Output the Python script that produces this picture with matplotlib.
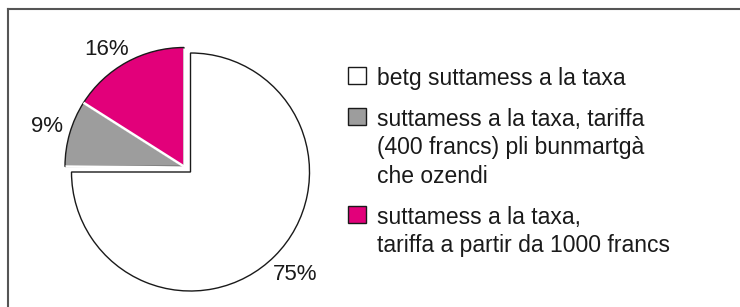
import matplotlib
matplotlib.use("Agg")
import matplotlib.pyplot as plt
import numpy as np

# ---- data ----
categories = [
    "betg suttamess a la taxa",
    "suttamess a la taxa, tariffa\n(400 francs) pli bunmartgà\nche ozendi",
    "suttamess a la taxa,\ntariffa a partir da 1000 francs",
]
shares = [75, 9, 16]
colors = ["#ffffff", "#9d9d9d", "#e2007a"]

plt.rcParams['font.family'] = ['Liberation Sans', 'DejaVu Sans']

W, H = 740, 307
fig = plt.figure(figsize=(W / 100, H / 100), dpi=100)
ax = fig.add_axes([8 / W, 0, 1 - 8 / W, (H - 9) / H])

cx, cy, r = 190.5, H - 172, 119
dx, dy = -6.5, 5.5
ink = "#1a1a1a"

wedges, texts, autotexts = ax.pie(
    shares, colors=colors, startangle=90, counterclock=False,
    center=(cx, cy), radius=r, autopct=lambda p: f"{p:.0f}%",
    pctdistance=1.2, frame=True,
    wedgeprops=dict(edgecolor=ink, linewidth=1.0),
    textprops=dict(fontsize=16, color=ink),
)

# layout nudges for percentage labels (pixels)
nudges = [(4, -2), (0, 0), (-9, -8)]
for i in (1, 2):
    wedges[i].set_center((cx + dx, cy + dy))
    wedges[i].set_zorder(3)
    autotexts[i].set_zorder(4)
for i, t in enumerate(autotexts):
    x, y = t.get_position()
    sx, sy = (dx, dy) if i > 0 else (0, 0)
    t.set_position((x + sx + nudges[i][0], y + sy + nudges[i][1]))

# white separators on radial edges of the shifted block
angles = sorted({wedges[1].theta1, wedges[1].theta2, wedges[2].theta1, wedges[2].theta2})
for a in angles:
    t = np.deg2rad(a)
    ax.plot([cx + dx, cx + dx + r * np.cos(t)], [cy + dy, cy + dy + r * np.sin(t)],
            color="white", lw=1.8, solid_capstyle="butt", zorder=3.5)

ax.set_xlim(8, W)
ax.set_ylim(0, H - 9)
ax.set_aspect("equal")
ax.set_xticks([])
ax.set_yticks([])
for s in ("right", "bottom"):
    ax.spines[s].set_visible(False)
for s in ("top", "left"):
    ax.spines[s].set_color("#555555")
    ax.spines[s].set_linewidth(1.5)

leg = ax.legend(
    wedges, categories, loc="upper left",
    bbox_to_anchor=(348, H - 67), bbox_transform=ax.transData,
    frameon=False, fontsize=16.5, handlelength=0.78, handleheight=0.78,
    handletextpad=0.5, labelspacing=0.78, borderpad=0, borderaxespad=0,
)
for t in leg.get_texts():
    t.set_color(ink)
    t.set_linespacing(1.3)
for col in leg._legend_handle_box.get_children():
    for row in col.get_children():
        row.align = "top"

fig.savefig("out.png", dpi=100)
